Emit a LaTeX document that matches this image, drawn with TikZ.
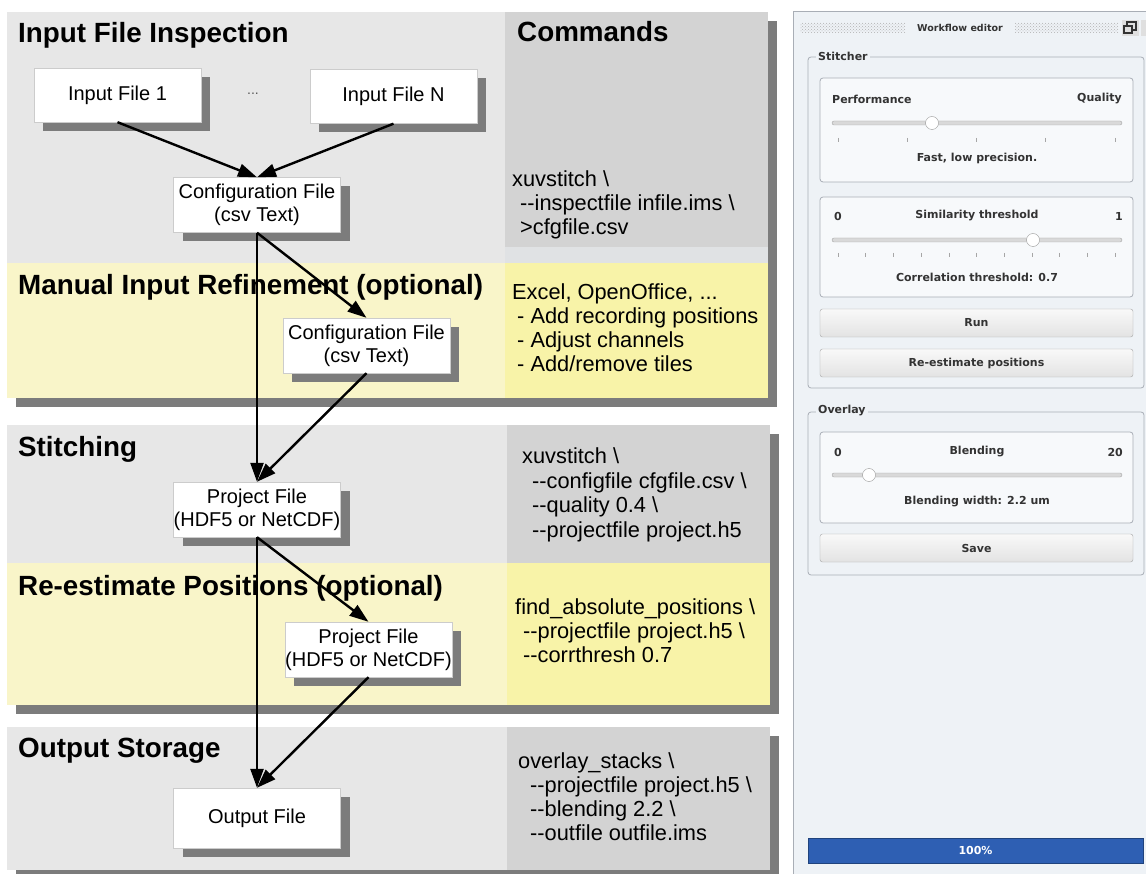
\documentclass[tikz,border=0pt]{standalone}
\usepackage{fontspec}
\setmainfont{Liberation Sans}
\newfontfamily\guifont{DejaVu Sans}
\usetikzlibrary{positioning,shapes,shadows,arrows.meta,patterns}

\definecolor{panelgray}{HTML}{E7E7E7}
\definecolor{cmdgray}{HTML}{D3D3D3}
\definecolor{paleyellow}{HTML}{F9F5C9}
\definecolor{cmdyellow}{HTML}{F8F3A8}
\definecolor{shadowgray}{HTML}{7C7C7C}
\definecolor{winbg}{HTML}{EEF2F6}
\definecolor{winline}{HTML}{A9AEB6}
\definecolor{guitext}{HTML}{333333}
\definecolor{barblue}{HTML}{2E5FB3}

\begin{document}
\begin{tikzpicture}[x=1pt, y=-1pt,
    title/.style={anchor=base west, inner sep=0pt, font=\bfseries\fontsize{27.8}{30}\selectfont},
    cmd/.style={anchor=west, align=left, inner sep=0pt, font=\fontsize{21.8}{24}\selectfont},
    filebox/.style={draw=gray!40, fill=white, inner xsep=0pt, minimum width=167pt, minimum height=55pt, align=center, font=\fontsize{20}{23}\selectfont, drop shadow={shadow xshift=9pt, shadow yshift=-9pt, fill=shadowgray, opacity=1}},
    flow/.style={line width=2.4pt, -{Triangle[length=19pt,width=13pt]}},
    gui/.style={font=\guifont\bfseries\fontsize{11}{13}\selectfont, text=guitext, inner sep=0pt},
    groupbox/.style={draw=winline, rounded corners=3pt, line width=0.8pt},
    inset/.style={draw=winline, rounded corners=3pt, line width=0.8pt, fill=white!55!winbg},
    button/.style={draw=gray!70, rounded corners=2.5pt, top color=white!95!gray, bottom color=gray!22, minimum width=313pt, minimum height=28pt, font=\guifont\bfseries\fontsize{11}{13}\selectfont, text=guitext},
    groove/.style={draw=gray!70, fill=gray!30, rounded corners=2pt},
    knob/.style={draw=gray!80, fill=white, circle, minimum size=13pt, inner sep=0pt},
    notch/.style={draw=gray!70, line width=0.6pt}
]
\useasboundingbox (0,0) rectangle (1146,874);

% Panels
\fill[shadowgray] (16,21) rectangle (777,407);
\fill[panelgray] (7,12) rectangle (505,263);
\fill[cmdgray] (505,12) rectangle (768,247);
\fill[cmdgray!50!winbg] (505,247) rectangle (768,263);
\fill[paleyellow] (7,263) rectangle (505,398);
\fill[cmdyellow] (505,263) rectangle (768,398);

\fill[shadowgray] (16,434) rectangle (779,714);
\fill[panelgray] (7,425) rectangle (507,563);
\fill[cmdgray] (507,425) rectangle (770,563);
\fill[paleyellow] (7,563) rectangle (507,705);
\fill[cmdyellow] (507,563) rectangle (770,705);

\fill[shadowgray] (16,736) rectangle (779,880);
\fill[panelgray] (7,727) rectangle (507,870);
\fill[cmdgray] (507,727) rectangle (770,870);

% Titles
\node[title] (insptitle) at (18,43) {Input File Inspection};
\node[title] (cmdtitle) at (517,42) {Commands};
\node[title] (refinetitle) at (18,295) {Manual Input Refinement (optional)};
\node[title] (stitchtitle) at (18,456) {Stitching};
\node[title] (reesttitle) at (18,595) {Re-estimate Positions (optional)};
\node[title] (outtitle) at (18,757) {Output Storage};

% Commands
\node[cmd] (inspcmd) at (512,205) {xuvstitch \textbackslash\\
  \hspace*{8pt}-{}-inspectfile infile.ims \textbackslash\\
  \hspace*{8pt}>cfgfile.csv};
\node[cmd] (refinecmd) at (512,328) {Excel, OpenOffice, ...\\
  \hspace*{5pt}- Add recording positions\\
  \hspace*{5pt}- Adjust channels\\
  \hspace*{5pt}- Add/remove tiles};
\node[cmd, font=\fontsize{21.8}{24.5}\selectfont] (stitchcmd) at (522,495) {xuvstitch \textbackslash\\
  \hspace*{10pt}-{}-configfile cfgfile.csv \textbackslash\\
  \hspace*{10pt}-{}-quality 0.4 \textbackslash\\
  \hspace*{10pt}-{}-projectfile project.h5};
\node[cmd] (reestcmd) at (515,631) {find\_absolute\_positions \textbackslash\\
  \hspace*{8pt}-{}-projectfile project.h5 \textbackslash\\
  \hspace*{8pt}-{}-corrthresh 0.7};
\node[cmd] (outcmd) at (518,797) {overlay\_stacks \textbackslash\\
  \hspace*{12pt}-{}-projectfile project.h5 \textbackslash\\
  \hspace*{12pt}-{}-blending 2.2 \textbackslash\\
  \hspace*{12pt}-{}-outfile outfile.ims};

% Files
\node[filebox, minimum height=54pt] (in1) at (117.5,95) {Input File 1};
\node[font=\fontsize{14}{16}\selectfont, text=gray!70!black] (dots) at (253,94) {...};
\node[filebox, minimum height=54pt] (inN) at (393.5,96.5) {Input File N};
\node[filebox] (cfg1) at (257,205) {Configuration File\\(csv Text)};
\node[filebox] (cfg2) at (366.5,345.5) {Configuration File\\(csv Text)};
\node[filebox] (prj1) at (257,509.5) {Project File\\(HDF5 or NetCDF)};
\node[filebox] (prj2) at (368.5,649.5) {Project File\\(HDF5 or NetCDF)};
\node[filebox, minimum height=60pt] (out) at (257,818) {Output File};

% Connections
\draw[flow] (in1.south) -- (cfg1.north);
\draw[flow] (inN.south) -- (cfg1.north);
\draw[flow] (cfg1.south) -- (cfg2.north);
\draw[flow] (cfg1.south) -- (prj1.north);
\draw[flow] (cfg2.south) -- (prj1.north);
\draw[flow] (prj1.south) -- (prj2.north);
\draw[flow] (prj1.south) -- (out.north);
\draw[flow] (prj2.south) -- (out.north);

% Workflow editor window
\fill[winbg] (793,12) rectangle (1146,874);
\draw[winline, line width=1pt] (793,874) -- (793,12) -- (1146,12);
\fill[pattern=crosshatch dots, pattern color=gray!60] (800,23) rectangle (905,33);
\fill[pattern=crosshatch dots, pattern color=gray!60] (1015,23) rectangle (1118,33);
\node[gui, font=\guifont\bfseries\fontsize{9.5}{11}\selectfont] (wintitle) at (960,28) {Workflow editor};
\fill[gray!25] (1122,20) rectangle (1139,36);
\draw[guitext, line width=1.2pt] (1127,22) rectangle (1136,30);
\draw[guitext, line width=1.2pt, fill=gray!25] (1124,26) rectangle (1132,33);
\fill[gray!25] (1141,20) rectangle (1146,36);

% Stitcher group
\draw[groupbox] (808,57) rectangle (1144,388);
\node[gui, fill=winbg, inner xsep=2pt, anchor=west] (stitchlbl) at (816,56) {Stitcher};
\draw[inset] (820,78) rectangle (1133,182);
\node[gui, anchor=west] (perf) at (832,99) {Performance};
\node[gui, anchor=east] (qual) at (1122,99) {Quality};
\draw[groove] (832,121) rectangle (1122,125);
\foreach \k in {0,...,4} \draw[notch] ({838+69.25*\k},138) -- ++(0,4);
\node[knob] (perfknob) at (932,123) {};
\node[gui] (perfnote) at (977,158) {Fast, low precision.};

\draw[inset] (820,197) rectangle (1133,297);
\node[gui] (simlo) at (838,216) {0};
\node[gui] (simname) at (977,216) {Similarity threshold};
\node[gui] (simhi) at (1119,216) {1};
\draw[groove] (832,238) rectangle (1122,242);
\foreach \k in {0,...,10} \draw[notch] ({838+27.7*\k},253) -- ++(0,4);
\node[knob] (simknob) at (1033,240) {};
\node[gui] (simnote) at (977,277) {Correlation threshold: 0.7};

\node[button] (runbtn) at (976.5,323) {Run};
\node[button] (reestbtn) at (976.5,363) {Re-estimate positions};

% Overlay group
\draw[groupbox] (808,412) rectangle (1144,575);
\node[gui, fill=winbg, inner xsep=2pt, anchor=west] (overlaylbl) at (816,411) {Overlay};
\draw[inset] (820,432) rectangle (1133,523);
\node[gui] (blendlo) at (838,452) {0};
\node[gui] (blendname) at (977,452) {Blending};
\node[gui, anchor=east] (blendhi) at (1123,452) {20};
\draw[groove] (832,473) rectangle (1122,477);
\node[knob] (blendknob) at (869,475) {};
\node[gui] (blendnote) at (977,502) {Blending width: 2.2 um};
\node[button] (savebtn) at (976.5,548) {Save};

% Progress
\node[draw=barblue!70!black, fill=barblue, minimum width=335pt, minimum height=25pt, text=white, font=\guifont\bfseries\fontsize{11}{13}\selectfont] (progress) at (975.5,850.5) {100\%};

\end{tikzpicture}
\end{document}
